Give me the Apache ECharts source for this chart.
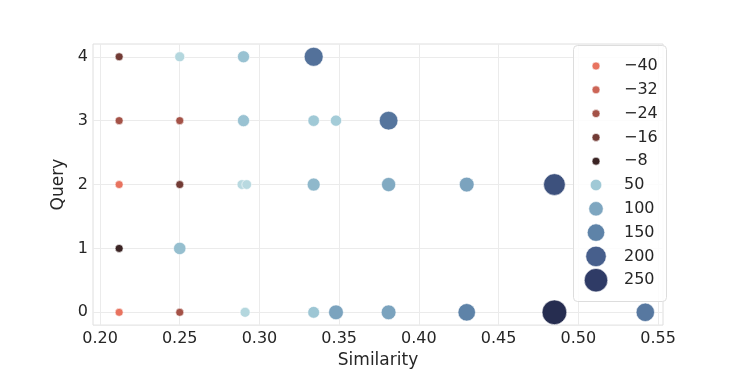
<!DOCTYPE html>
<html>
<head>
<meta charset="utf-8">
<script src="https://cdn.jsdelivr.net/npm/echarts@6/dist/echarts.min.js"></script>
<style>
  html, body { margin: 0; padding: 0; background: #fff; }
  #main { width: 747px; height: 374px; }
</style>
</head>
<body>
<div id="main"></div>
<script>
// similarity of each point, query it belongs to, and the score (hue + size)
var similarity = [
  0.212, 0.25, 0.29, 0.334,
  0.212, 0.25, 0.29, 0.334, 0.348, 0.381,
  0.212, 0.25, 0.289, 0.292, 0.334, 0.381, 0.43, 0.485,
  0.212, 0.25,
  0.212, 0.25, 0.291, 0.334, 0.348, 0.381, 0.43, 0.485, 0.542
];
var query = [
  4, 4, 4, 4,
  3, 3, 3, 3, 3, 3,
  2, 2, 2, 2, 2, 2, 2, 2,
  1, 1,
  0, 0, 0, 0, 0, 0, 0, 0, 0
];
var score = [
  -16, 25, 60, 175,
  -24, -24, 60, 50, 45, 170,
  -40, -16, 20, 20, 75, 95, 105, 220,
  -8, 65,
  -40, -24, 25, 55, 105, 105, 150, 270, 165
];
var xTicks = [0.20, 0.25, 0.30, 0.35, 0.40, 0.45, 0.50, 0.55];
var yTicks = [0, 1, 2, 3, 4];
var legendValues = [-40, -32, -24, -16, -8, 50, 100, 150, 200, 250];

// colour ramps
var negStops = [[-40, [232, 115, 95]], [-32, [204, 101, 86]], [-24, [164, 82, 71]],
                [-16, [114, 59, 53]], [-8, [59, 36, 36]], [0, [30, 22, 22]]];
var posStops = [[0, [200, 228, 230]], [50, [160, 201, 214]], [100, [126, 166, 192]],
                [150, [94, 131, 168]], [200, [71, 95, 140]], [250, [47, 59, 102]], [290, [28, 30, 58]]];

function ramp(stops, v) {
  if (v <= stops[0][0]) return stops[0][1];
  for (var i = 1; i < stops.length; i++) {
    if (v <= stops[i][0]) {
      var a = stops[i - 1], b = stops[i];
      var t = (v - a[0]) / (b[0] - a[0]);
      return a[1].map(function (c, k) { return Math.round(c + (b[1][k] - c) * t); });
    }
  }
  return stops[stops.length - 1][1];
}
function colorOf(v) {
  var c = v < 0 ? ramp(negStops, v) : ramp(posStops, v);
  return "rgb(" + c.join(",") + ")";
}
function sizeOf(v) {
  return v < 0 ? 8 : 8.5 + 0.06 * v;
}

var points = similarity.map(function (s, i) {
  return {
    value: [s, query[i], score[i]],
    symbolSize: sizeOf(score[i]),
    itemStyle: { color: colorOf(score[i]) }
  };
});

var legendGraphics = [
  {
    type: "rect",
    left: 573, top: 45,
    shape: { width: 93, height: 256, r: 4 },
    style: { fill: "rgba(255,255,255,0.85)", stroke: "#dddddd", lineWidth: 1 },
    z: 10
  }
];
legendValues.forEach(function (v, i) {
  var cy = 66 + i * 23.8;
  var r = sizeOf(v) / 2;
  legendGraphics.push({
    type: "circle",
    shape: { cx: 596, cy: cy, r: r },
    style: { fill: colorOf(v), stroke: "#fff", lineWidth: 0.6 },
    z: 11
  });
  legendGraphics.push({
    type: "text",
    x: 624, y: cy,
    style: {
      text: v < 0 ? "\u2212" + Math.abs(v) : String(v),
      fill: "#262626",
      font: "16px 'DejaVu Sans'",
      verticalAlign: "middle"
    },
    z: 11
  });
});

var chart = echarts.init(document.getElementById("main"));
var option = {
  backgroundColor: "#fff",
  animation: false,
  textStyle: { fontFamily: "DejaVu Sans" },
  grid: {
    left: 93, right: 84, top: 44, bottom: 47,
    show: true, borderColor: "#dedede", borderWidth: 1, backgroundColor: "#fff"
  },
  xAxis: {
    type: "value",
    min: 0.1956, max: 0.5531,
    name: "Similarity",
    nameLocation: "middle",
    nameGap: 24,
    nameTextStyle: { fontSize: 17, color: "#262626", fontFamily: "DejaVu Sans" },
    axisLine: { show: false },
    axisTick: { show: false, customValues: xTicks },
    axisLabel: {
      customValues: xTicks,
      margin: 6,
      fontSize: 16,
      color: "#262626",
      fontFamily: "DejaVu Sans",
      formatter: function (v) { return v.toFixed(2); }
    },
    splitLine: { show: true, lineStyle: { color: "#ebebeb", width: 1 } }
  },
  yAxis: {
    type: "value",
    min: -0.2, max: 4.2,
    name: "Query",
    nameLocation: "middle",
    nameGap: 17,
    nameRotate: 90,
    nameTextStyle: { fontSize: 17, color: "#262626", fontFamily: "DejaVu Sans" },
    axisLine: { show: false },
    axisTick: { show: false, customValues: yTicks },
    axisLabel: {
      customValues: yTicks,
      margin: 5,
      fontSize: 16,
      color: "#262626",
      fontFamily: "DejaVu Sans"
    },
    splitLine: { show: true, lineStyle: { color: "#ebebeb", width: 1 } }
  },
  series: [
    {
      type: "scatter",
      data: points,
      itemStyle: { borderColor: "#ffffff", borderWidth: 0.6, opacity: 1 }
    }
  ],
  graphic: legendGraphics
};
chart.setOption(option);
</script>
</body>
</html>
